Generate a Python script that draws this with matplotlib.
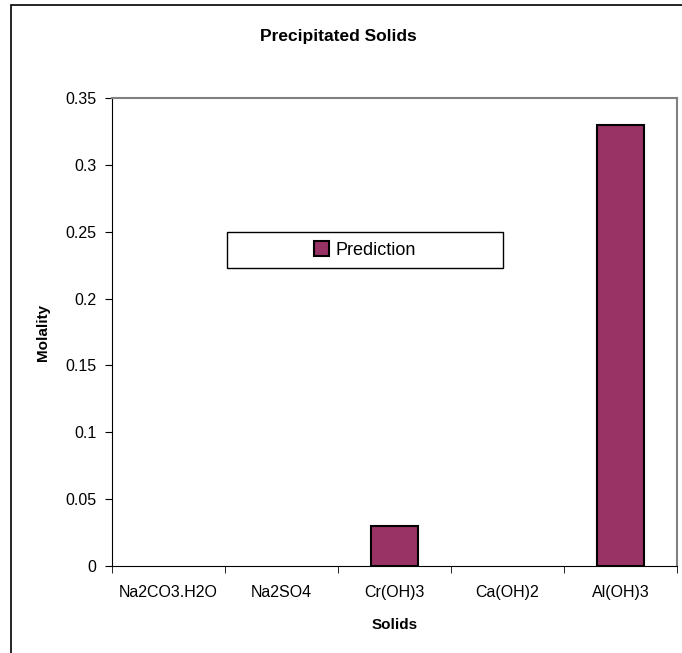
# Precipitated solids bar chart
import matplotlib.pyplot as plt
from matplotlib.patches import Rectangle
import numpy as np

plt.rcParams['font.family'] = ['Liberation Sans', 'DejaVu Sans']

# Data
solids = ['Na2CO3.H2O', 'Na2SO4', 'Cr(OH)3', 'Ca(OH)2', 'Al(OH)3']
prediction = [0.0, 0.0, 0.03, 0.0, 0.33]
y_ticks = [0, 0.05, 0.1, 0.15, 0.2, 0.25, 0.3, 0.35]
y_tick_labels = ['0', '0.05', '0.1', '0.15', '0.2', '0.25', '0.3', '0.35']

bar_color = '#993366'

fig = plt.figure(figsize=(6.82, 6.53), dpi=100)
ax = fig.add_axes([112 / 682, 1 - 566 / 653, 565 / 682, 468 / 653])

x = np.arange(len(solids))
# empty bars get no outline (Excel draws nothing for zero)
edge_w = [1.5 if v > 0 else 0 for v in prediction]
ax.bar(x, prediction, width=0.41, color=bar_color, edgecolor='black',
       linewidth=edge_w, label='Prediction', zorder=3)

ax.set_xlim(-0.5, len(solids) - 0.5)
ax.set_ylim(0, 0.35)
ax.set_yticks(y_ticks)
ax.set_yticklabels(y_tick_labels, fontsize=11.5)

# category labels in the middle, tick marks at the boundaries
ax.set_xticks(x)
ax.set_xticklabels(solids, fontsize=11.5)
ax.tick_params(axis='x', which='major', length=0, pad=14)
ax.set_xticks(np.arange(-0.5, len(solids)), minor=True)
ax.tick_params(axis='x', which='minor', length=5, direction='out', color='black')
ax.tick_params(axis='y', length=5, direction='out', color='black', pad=6)

ax.spines['left'].set_color('black')
ax.spines['bottom'].set_color('black')
ax.spines['top'].set_color('#808080')
ax.spines['right'].set_color('#808080')
ax.spines['top'].set_linewidth(1.5)
ax.spines['right'].set_linewidth(1.5)

ax.set_xlabel('Solids', fontsize=11, fontweight='bold')
ax.xaxis.set_label_coords(0.5, -(625 - 566) / 468)
ax.xaxis.label.set_va('center')
ax.set_ylabel('Molality', fontsize=11, fontweight='bold')
ax.yaxis.set_label_coords(-(112 - 43) / 565, 0.5)
ax.yaxis.label.set_va('center')
fig.text(338 / 682, 1 - 37 / 653, 'Precipitated Solids', fontsize=12.5,
         fontweight='bold', ha='center', va='center')

# legend box inside the plot
lx0, lx1 = (227 - 112) / 565, (503 - 112) / 565
ly0, ly1 = (566 - 268) / 468, (566 - 232) / 468
ax.add_patch(Rectangle((lx0, ly0), lx1 - lx0, ly1 - ly0, transform=ax.transAxes,
                       facecolor='white', edgecolor='black', linewidth=1, zorder=4))
leg = ax.legend(loc='center', bbox_to_anchor=((lx0 + lx1) / 2, (ly0 + ly1) / 2),
                frameon=False, fontsize=13, handlelength=0.85, handleheight=0.85,
                handletextpad=0.35)
leg.set_zorder(5)
for h in leg.legend_handles:
    h.set_linewidth(1.5)

# outer chart frame
fig.add_artist(Rectangle((11 / 682, -0.1), 1.2, 1 - 5 / 653 + 0.1,
                         transform=fig.transFigure, facecolor='none',
                         edgecolor='black', linewidth=1.2))

plt.savefig('out.png', dpi=100)
